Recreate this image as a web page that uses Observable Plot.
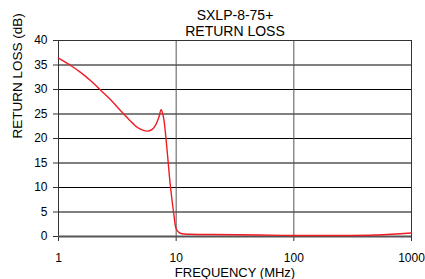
<!DOCTYPE html>
<html><head><meta charset="utf-8">
<script src="https://cdn.jsdelivr.net/npm/d3@7"></script>
<script src="https://cdn.jsdelivr.net/npm/@observablehq/plot@0.6"></script>
<style>body{margin:0;background:#fff}</style>
</head><body><div id="chart"></div>
<script>
const titleLines = ["SXLP-8-75+", "RETURN LOSS"];
const xTicks = [1, 10, 100, 1000];
const yTicks = [0, 5, 10, 15, 20, 25, 30, 35, 40];
const freq = [1, 1.25, 1.54, 1.9, 2.27, 2.8, 3.36, 4.0, 4.66, 5.2, 5.67, 6.2, 6.67, 7.1, 7.45, 7.7, 7.95, 8.38, 8.95, 9.55, 10, 10.6, 11.2, 13, 20, 50, 100, 200, 500, 1000];
const rl = [36.4, 35.0, 33.5, 31.7, 29.9, 27.8, 25.7, 23.8, 22.3, 21.7, 21.5, 21.8, 22.7, 24.2, 25.9, 25.0, 23.0, 17.5, 10.1, 4.6, 1.6, 0.8, 0.55, 0.45, 0.4, 0.3, 0.2, 0.2, 0.3, 0.7];
const data = freq.map((f, i) => ({f, v: rl[i]}));

const chart = Plot.plot({
  width: 425, height: 279,
  marginLeft: 58, marginRight: 14, marginTop: 40, marginBottom: 43,
  style: {fontFamily: "Liberation Sans, Arial, sans-serif", fontSize: "12px", color: "#000", background: "#fff"},
  x: {type: "log", domain: [1, 1000], ticks: xTicks, tickFormat: d => String(d), label: null},
  y: {domain: [0, 40], ticks: yTicks, label: null},
  marks: [
    Plot.gridY(yTicks, {stroke: "#000", strokeOpacity: 1, strokeWidth: 1}),
    Plot.gridX([10, 100], {stroke: "#555", strokeOpacity: 1, strokeWidth: 1}),
    Plot.frame({stroke: "#333", strokeWidth: 1}),
    Plot.axisX(xTicks, {tickSize: 5, tickPadding: 12, fontSize: 12, stroke: "#333", tickFormat: d => String(d)}),
    Plot.axisY(yTicks, {tickSize: 5, tickPadding: 6, fontSize: 12, stroke: "#333"}),
    Plot.ruleY([0], {stroke: "#555", strokeWidth: 2}),
    Plot.line(data, {x: "f", y: "v", stroke: "#ee1c24", strokeWidth: 1.4, curve: "catmull-rom"}),
    Plot.text([titleLines[0]], {frameAnchor: "top", lineAnchor: "middle", dy: -25, text: d => d, fontSize: 14}),
    Plot.text([titleLines[1]], {frameAnchor: "top", lineAnchor: "middle", dy: -9, text: d => d, fontSize: 14}),
    Plot.text(["FREQUENCY (MHz)"], {frameAnchor: "bottom", lineAnchor: "middle", dy: 36.5, text: d => d, fontSize: 13}),
    Plot.text(["RETURN LOSS (dB)"], {frameAnchor: "left", lineAnchor: "middle", dx: -41, rotate: -90, text: d => d, fontSize: 13.5})
  ]
});
document.getElementById("chart").append(chart);
</script></body></html>
